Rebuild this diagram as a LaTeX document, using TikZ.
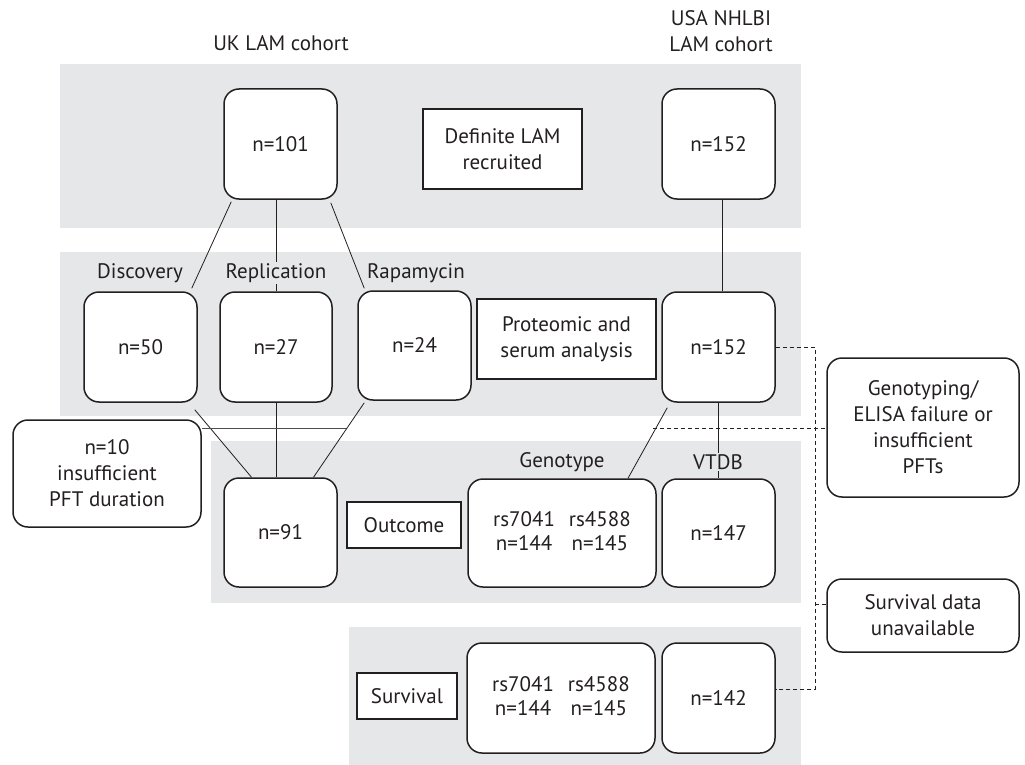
\documentclass[tikz,border=0pt]{standalone}
\usepackage{fontspec}
\setmainfont{PT Sans}
\definecolor{band}{HTML}{E6E7E8}
\definecolor{ink}{HTML}{231F20}
\tikzset{
  rbox/.style={draw=ink, line width=1.5pt, fill=white, rounded corners=15pt, align=center, inner sep=0pt, text=ink},
  sbox/.style={draw=ink, line width=1.5pt, fill=white, align=center, inner sep=0pt, text=ink},
  lbl/.style={fill=band, inner sep=1pt, text=ink},
  toplbl/.style={align=center, inner sep=0pt, text=ink},
  conn/.style={draw=ink, line width=0.8pt},
  dconn/.style={draw=ink, line width=0.8pt, dash pattern=on 4pt off 3pt},
}
\begin{document}
\begin{tikzpicture}[x=1pt,y=-1pt, font=\fontsize{21}{26}\selectfont]
\useasboundingbox (0,0) rectangle (1025,765);
% bands
\fill[band] (60,64) rectangle (801,228);
\fill[band] (60,252) rectangle (801,416);
\fill[band] (211,441) rectangle (801,603);
\fill[band] (349,627) rectangle (801,765);
% headings
\node[toplbl] (uk) at (281,43) {UK LAM cohort};
\node[toplbl] (usa) at (721,31) {USA NHLBI\\LAM cohort};
% row 1
\node[rbox, minimum width=113pt, minimum height=110pt] (n101) at (280.5,144) {n=101};
\node[sbox, minimum width=159pt, minimum height=80pt] (deflam) at (502.5,149) {Definite LAM\\recruited};
\node[rbox, minimum width=113pt, minimum height=110pt] (usa1) at (718.5,144) {n=152};
% row 2
\node[rbox, minimum width=113pt, minimum height=110pt] (n50) at (140.5,347) {n=50};
\node[rbox, minimum width=112pt, minimum height=110pt] (n27) at (276,347) {n=27};
\node[rbox, minimum width=113pt, minimum height=109pt] (n24) at (414.5,345.5) {n=24};
\node[sbox, minimum width=179pt, minimum height=80pt] (prot) at (566.5,339) {Proteomic and\\serum analysis};
\node[rbox, minimum width=113pt, minimum height=110pt] (usa2) at (718.5,347) {n=152};
% excluded
\node[rbox, minimum width=188pt, minimum height=107pt] (n10) at (107,473.5) {n=10\\insufficient\\PFT duration};
\node[rbox, minimum width=192pt, minimum height=139pt] (fail) at (923,427.5) {Genotyping/\\ELISA failure or\\insufficient\\PFTs};
\node[rbox, minimum width=192pt, minimum height=73pt] (survna) at (923,615.5) {Survival data\\unavailable};
% row 3
\node[rbox, minimum width=113pt, minimum height=109pt] (n91) at (280.5,532.5) {n=91};
\node[sbox, minimum width=114pt, minimum height=46pt] (outc) at (404,525) {Outcome};
\node[rbox, minimum width=188pt, minimum height=108pt] (geno) at (562,533) {\begin{tabular}{@{}c@{\hspace{14pt}}c@{}}rs7041 & rs4588\\[-2pt] n=144 & n=145\end{tabular}};
\node[rbox, minimum width=113pt, minimum height=108pt] (n147) at (718.5,533) {n=147};
% row 4
\node[sbox, minimum width=100pt, minimum height=46pt] (surv) at (407,696) {Survival};
\node[rbox, minimum width=188pt, minimum height=110pt] (geno2) at (561,698) {\begin{tabular}{@{}c@{\hspace{14pt}}c@{}}rs7041 & rs4588\\[-2pt] n=144 & n=145\end{tabular}};
\node[rbox, minimum width=113pt, minimum height=110pt] (n142) at (718.5,698) {n=142};
% connectors
\coordinate (c1) at (345.5,428);
\coordinate (c2) at (653,428);
\coordinate (t1) at (815,347);
\coordinate (t2) at (815,689);
\coordinate (t3) at (815,604);
\draw[conn] ([xshift=8pt,yshift=-2pt]n101.south west) -- ([xshift=-6pt,yshift=3pt]n50.north east);
\draw[conn] (n27.north) -- (n27.north |- n101.south);
\draw[conn] ([xshift=-7pt,yshift=-3pt]n101.south east) -- ([xshift=7pt,yshift=2pt]n24.north west);
\draw[conn] ([xshift=3.5pt]usa1.south) -- ([xshift=3.5pt]usa2.north);
\draw[conn] ([xshift=-3pt,yshift=-7pt]n50.south east) -- ([xshift=-29pt]n91.north);
\draw[conn] (n27.south) -- (n27.south |- n91.north);
\draw[conn] ([xshift=7pt,yshift=-2pt]n24.south west) -- ([xshift=33pt]n91.north);
\draw[conn] ([xshift=6pt,yshift=-5pt]usa2.south west) -- ([xshift=66pt]geno.north);
\draw[conn] (usa2.south) -- (n147.north);
\draw[conn, draw=ink!80, line width=1pt] (n10.east |- c1) -- (c1);
\draw[dconn] (c2) -- (fail.west |- c2);
\draw[dconn] (usa2.east |- t1) -- (t1) -- (t2) -- (n142.east |- t2);
\draw[dconn] (t3) -- (survna.west |- t3);
% labels on top of lines
\node[lbl] (disc) at (140,273) {Discovery};
\node[lbl] (repl) at (276,273) {Replication};
\node[lbl] (rapa) at (416,273) {Rapamycin};
\node[lbl] (gtl) at (562,462) {Genotype};
\node[lbl] (vtdb) at (718,462) {VTDB};
\end{tikzpicture}
\end{document}
